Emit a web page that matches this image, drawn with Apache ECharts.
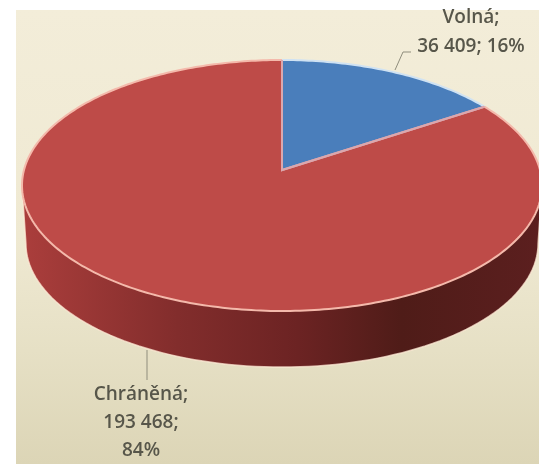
<!DOCTYPE html>
<html><head><meta charset="utf-8">
<style>html,body{margin:0;padding:0;background:#fff;overflow:hidden}#c{width:539px;height:464px;filter:blur(0.6px)}</style>
<script src="https://cdn.jsdelivr.net/npm/echarts@6/dist/echarts.min.js"></script>
</head><body><div id="c"></div>
<script>
const categories = ['Volná', 'Chráněná'];
const values = [36409, 193468];
const sliceColors = ['#4a7ebb', '#be4b48'];
const total = values.reduce((a, b) => a + b, 0);
const fmt = v => String(v).replace(/\B(?=(\d{3})+$)/g, ' ');
const pct = v => Math.round(v / total * 100) + '%';
const labelLines = [
  [categories[0] + ';', fmt(values[0]) + '; ' + pct(values[0])],
  [categories[1] + ';', fmt(values[1]) + ';', pct(values[1])]
];
const labelAnchors = [{x: 471, y: 18, gap: 29}, {x: 141, y: 395, gap: 28}];
const leaders = [[[395, 70], [403, 52], [411, 52]], [[147, 350], [147, 380]]];

const apexY = 0.123, depth = 58, baseScale = 0.985, STEPS = 90;
function rim(theta) {
  const dx = Math.sin(theta), dy = Math.cos(theta);
  const b = apexY * dy, t = -b + Math.sqrt(b * b - (apexY * apexY - 1));
  return [dx * t, apexY + dy * t];
}
const chart = echarts.init(document.getElementById('c'));
function renderWall(params, api) {
  const pts = [];
  for (let i = 0; i <= STEPS; i++) {
    const a = Math.PI + Math.PI * i / STEPS;
    const p = api.coord([Math.cos(a) * baseScale, Math.sin(a) * baseScale]);
    pts.push([p[0], p[1] + depth]);
  }
  pts.push(api.coord([1, 0]));
  pts.push(api.coord([-1, 0]));
  return {type: 'polygon', shape: {points: pts}, style: {
    fill: new echarts.graphic.LinearGradient(0, 0, 1, 0, [
      {offset: 0, color: '#ab3e3c'}, {offset: 0.3, color: '#822d2c'},
      {offset: 0.53, color: '#6c2323'}, {offset: 0.73, color: '#4f1c18'},
      {offset: 1, color: '#5c1f1f'}]),
    stroke: 'rgba(255,235,215,0.75)', lineWidth: 1.5}};
}
function renderSlice(params, api) {
  const i = params.dataIndex;
  const before = values.slice(0, i).reduce((a, b) => a + b, 0);
  const start = before / total * 2 * Math.PI;
  const end = (before + api.value(1)) / total * 2 * Math.PI;
  const apex = api.coord([0, apexY]);
  const n = Math.max(8, Math.round((end - start) * 60));
  const arc = [];
  for (let k = 0; k <= n; k++) arc.push(api.coord(rim(start + (end - start) * k / n)));
  const children = [
    {type: 'polygon', shape: {points: [apex].concat(arc)}, style: {fill: sliceColors[i], stroke: 'none'}},
    {type: 'polyline', shape: {points: arc}, style: {fill: 'none', stroke: i === 0 ? '#cfe2f3' : '#f4b9ab', lineWidth: 2}},
    {type: 'polyline', shape: {points: [arc[0], apex, arc[n]]}, style: {fill: 'none', stroke: '#dca7ad', lineWidth: 2}, z2: 5},
    {type: 'polyline', shape: {points: leaders[i]}, style: {fill: 'none', stroke: '#8f8d7c', lineWidth: 1}}
  ];
  labelLines[i].forEach((t, j) => children.push({type: 'text', style: {
    text: t, x: labelAnchors[i].x, y: labelAnchors[i].y + j * labelAnchors[i].gap,
    align: 'center', verticalAlign: 'middle', fill: '#57564a',
    font: '600 19px "Open Sans", sans-serif'}}));
  return {type: 'group', children};
}
chart.setOption({
  animation: false,
  graphic: [{type: 'rect', shape: {x: 16, y: 10, width: 523, height: 454}, silent: true, z: -1, style: {
    fill: new echarts.graphic.LinearGradient(0, 0, 0, 1, [
      {offset: 0, color: '#f3edd9'}, {offset: 0.5, color: '#efe9d2'},
      {offset: 0.75, color: '#e6e0c5'}, {offset: 1, color: '#dcd5b6'}])}}],
  grid: {left: 22, top: 60, width: 520, height: 251, outerBoundsMode: 'none'},
  xAxis: {type: 'value', min: -1, max: 1, show: false},
  yAxis: {type: 'value', min: -1, max: 1, show: false},
  series: [
    {type: 'custom', silent: true, clip: false, renderItem: renderWall, data: [[0, 0]]},
    {type: 'custom', silent: true, clip: false, renderItem: renderSlice,
     data: categories.map((c, i) => ({name: c, value: [i, values[i]]}))}
  ]
});
</script></body></html>
